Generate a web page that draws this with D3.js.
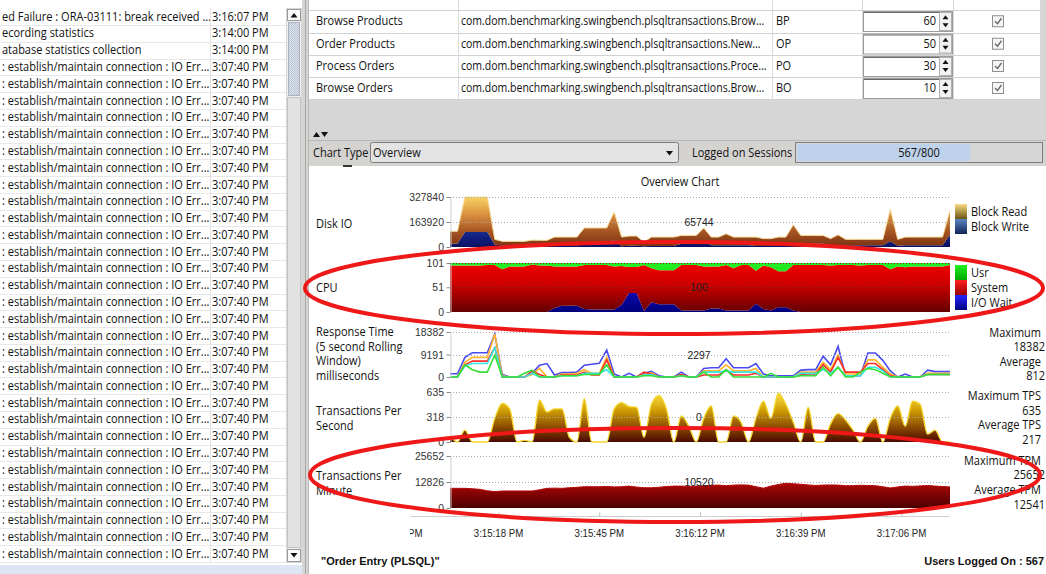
<!DOCTYPE html>
<html><head><meta charset="utf-8">
<script src="https://cdn.jsdelivr.net/npm/d3@7"></script>
<style>
html,body{margin:0;padding:0;background:#fff;overflow:hidden}
svg{display:block}
</style></head><body>
<svg id="c" width="1046" height="574"></svg>
<script>
// ================= DATA =================
const logMessages = ["ed Failure : ORA-03111: break received ...", "ecording statistics", "atabase statistics collection"]
  .concat(Array(30).fill(": establish/maintain connection : IO Err..."));
const logTimes = ["3:16:07 PM", "3:14:00 PM", "3:14:00 PM"].concat(Array(30).fill("3:07:40 PM"));

const txNames = ["Browse Products", "Order Products", "Process Orders", "Browse Orders"];
const txClasses = ["com.dom.benchmarking.swingbench.plsqltransactions.Brow...",
  "com.dom.benchmarking.swingbench.plsqltransactions.New...",
  "com.dom.benchmarking.swingbench.plsqltransactions.Proce...",
  "com.dom.benchmarking.swingbench.plsqltransactions.Brow..."];
const txCodes = ["BP", "OP", "PO", "BO"];
const txWeights = [60, 50, 30, 10];

const sessionsLogged = 567, sessionsMax = 800;

const startTime = new Date(2013, 4, 1, 15, 15, 5);
const endTime = new Date(2013, 4, 1, 15, 17, 19);
const sampleStepSec = 2;
const xTickTimes = [[15,14,51],[15,15,18],[15,15,45],[15,16,12],[15,16,39],[15,17,6]];
const xTickLabels = ["3:14:51 PM", "3:15:18 PM", "3:15:45 PM", "3:16:12 PM", "3:16:39 PM", "3:17:06 PM"];

// Disk IO (stacked: write bottom, read on top)
const blockWrite = [22000,22000,98000,98000,98000,98000,15000,11000,11000,11000,
 11000,11000,15000,15000,6000,6000,6000,6000,33000,33000,
 33000,33000,44000,5000,8000,8000,5000,6000,6000,6000,
 6000,22000,22000,22000,37000,11000,11000,11000,11000,11000,
 11000,6000,6000,6000,6000,6000,22000,22000,22000,22000,
 22000,11000,11000,11000,11000,11000,11000,11000,11000,37000,
 8000,11000,11000,11000,11000,11000,11000,80000];
const blockRead = [81000,81000,229840,229840,229840,229840,35000,26000,26000,26000,
 26000,34000,29000,29000,59000,59000,59000,59000,92000,92000,
 92000,92000,186000,60000,64000,64000,28000,59000,59000,59000,
 59000,54000,54000,54000,88000,54000,54000,76000,54000,54000,
 54000,59000,49000,49000,59000,59000,124000,54000,54000,54000,
 54000,44000,69000,39000,39000,39000,39000,39000,39000,210000,
 42000,54000,54000,54000,54000,54000,54000,160000];
const diskTicks = [0, 163920, 327840];
const diskCurrent = 65744;

// CPU (stacked: I/O wait bottom, system, usr top)
const cpuIoWait = [0,0,0,0,0,0,0,0,0,0,
 0,0,0,0,8,13,13,13,6,5,
 5,5,5,15,39,39,2,20,16,16,
 16,3,3,3,3,7,7,3,3,3,
 3,17,6,3,10,10,3,0,0,0,
 0,0,0,0,0,0,0,0,0,0,
 0,0,0,0,0,0,0,0];
const cpuSystem = [96,96,96,96,96,97,97,88,94,94,
 94,98,96,96,86,81,81,81,91,92,
 92,92,89,80,54,54,95,70,70,70,
 70,94,94,94,91,87,87,94,87,94,
 94,68,90,89,74,74,94,97,97,97,
 97,96,97,97,97,96,97,97,97,88,
 94,92,94,94,94,94,94,97];
const cpuUsr = [5,5,5,5,5,4,4,13,7,7,
 7,3,5,5,7,7,7,7,4,4,
 4,4,7,6,8,8,4,11,15,15,
 15,4,4,4,7,7,7,4,11,4,
 4,16,5,9,17,17,4,4,4,4,
 4,5,4,4,4,5,4,4,4,13,
 7,9,7,7,7,7,7,4];
const cpuTicks = [0, 51, 101];
const cpuCurrent = 100;

// Response time (5 s rolling window), ms, one line per transaction
const rtBlue = [1300,1300,8000,9900,9900,9900,17500,1000,0,0,
 0,1500,4800,5500,800,1800,1800,2000,4800,5200,
 5600,11000,1200,0,1500,0,1500,2300,500,0,
 0,2000,0,0,3500,3800,3800,7500,3800,3800,
 3800,5500,1200,500,500,500,500,2800,3000,3000,
 8500,5000,12500,500,500,500,9800,9800,6800,2500,
 0,1200,0,0,2800,2200,2200,2200];
const rtOrange = [0,0,6000,8000,8000,8000,17500,500,0,0,
 0,1000,3500,0,0,1200,1200,1500,3000,1500,
 1500,8000,0,0,0,0,1000,1800,0,0,
 0,1000,0,0,2500,2500,2500,5000,2500,2500,
 2500,3500,0,0,0,0,0,2000,2000,2000,
 6000,3000,9000,1200,1200,1200,7000,7000,4000,1200,
 0,0,0,0,1500,1500,1500,1500];
const rtRed = [0,0,5000,6500,6500,6500,12000,0,0,0,
 0,2500,1000,0,0,800,800,800,2000,800,
 800,7000,0,0,0,0,2000,1200,0,0,
 0,1000,0,0,800,800,800,3000,800,800,
 800,1500,0,0,0,0,0,1000,1200,1200,
 5000,2000,8000,2000,2000,2000,5500,5500,3000,500,
 0,0,0,0,1000,1000,1000,1000];
const rtCyan = [0,0,4500,5500,5500,5500,12000,0,0,0,
 0,1500,0,0,0,500,500,500,1500,1500,
 1500,3000,0,0,0,0,800,1000,0,0,
 0,500,0,0,2000,2000,2000,2500,2000,2000,
 2000,2000,0,0,0,0,0,1500,1500,1500,
 3000,1500,4000,500,500,500,4000,4000,2500,0,
 0,0,0,0,1000,1000,1000,1000];
const rtGreen = [0,0,5000,3000,2000,2000,9000,0,0,0,
 1500,2800,0,0,0,500,500,500,1000,1000,
 1000,5000,0,0,0,0,500,500,0,0,
 0,500,0,0,2000,0,0,3000,0,0,
 0,0,0,1500,0,0,0,500,500,500,
 4000,500,4000,0,0,2000,3500,3000,1500,0,
 0,0,0,0,1000,1000,1000,1000];
const rtColors = ["#4a4af2", "#ffb42a", "#ff2a2a", "#34e6e6", "#36e036"];
const rtTicks = [0, 9191, 18382];
const rtCurrent = 2297, rtMax = 18382, rtAvg = 812;

// Transactions per second
const tps = [80,0,150,0,0,0,300,490,420,0,
 20,0,530,380,420,420,60,0,550,0,
 0,0,420,500,450,440,60,480,590,420,
 0,330,200,0,300,460,0,0,330,250,
 0,300,520,300,620,480,250,0,440,0,
 0,230,360,280,150,0,200,300,0,300,
 460,200,520,480,100,150,0,0];
const tpsTicks = [0, 318, 635];
const tpsCurrent = 0, tpsMax = 635, tpsAvg = 217;

// Transactions per minute
const tpm = [9700,9700,9700,9500,9200,8500,8100,8400,8400,8400,
 8400,8400,9000,9700,9800,9700,10000,10200,10500,10500,
 10500,10600,10400,10500,10800,10300,10000,10000,10200,10600,
 10800,10800,10600,10800,11000,11200,11300,11000,11300,11400,
 11300,10500,9800,10800,11600,12200,12000,11700,11400,11100,
 11300,11400,11300,11000,11000,11200,11100,11000,10500,9900,
 10400,10800,10700,10900,11100,10800,10600,10400];
const tpmTicks = [0, 12826, 25652];
const tpmCurrent = 10520, tpmMax = 25652, tpmAvg = 12541;

// ================= DRAWING =================
const svg = d3.select('#c');
const defs = svg.append('defs');
const UIF = "'Open Sans','Noto Sans',sans-serif";
const CF = "'Liberation Sans',Arial,sans-serif";

function measure(str, family, size, weight) {
  const t = svg.append('text').attr('font-family', family).attr('font-size', size)
    .attr('font-weight', weight || null).text(str);
  const w = t.node().getComputedTextLength(); t.remove(); return w;
}
const uiK = 202 / measure('establish/maintain connection : IO Err...', UIF, 12);

function txt(g, x, y, s, o = {}) {
  const k = o.k == null ? uiK : o.k;
  return g.append('text').attr('transform', `translate(${x},${y}) scale(${k},1)`)
    .attr('font-family', o.f || UIF).attr('font-size', o.s || 12)
    .attr('fill', o.c || '#111').attr('text-anchor', o.a || 'start')
    .attr('font-weight', o.w || null).text(s);
}
function grad(id, stops, y1, y2) {
  const g = defs.append('linearGradient').attr('id', id).attr('x1', 0).attr('x2', 0);
  if (y1 != null) g.attr('gradientUnits', 'userSpaceOnUse').attr('y1', y1).attr('y2', y2);
  else g.attr('y1', 0).attr('y2', 1);
  stops.forEach(([o, c]) => g.append('stop').attr('offset', o).attr('stop-color', c));
}

// thumb texture
const pat = defs.append('pattern').attr('id', 'thumbPat').attr('width', 2).attr('height', 2)
  .attr('patternUnits', 'userSpaceOnUse');
pat.append('rect').attr('width', 2).attr('height', 2).attr('fill', '#dfe5ee');
pat.append('rect').attr('width', 1).attr('height', 1).attr('fill', '#b7c1d0');
pat.append('rect').attr('x', 1).attr('y', 1).attr('width', 1).attr('height', 1).attr('fill', '#b7c1d0');

// ---------- Left log panel ----------
const left = svg.append('g');
left.append('rect').attr('x', 0).attr('y', 0).attr('width', 302).attr('height', 574).attr('fill', '#fff');
const rowH = 16.78, rowC0 = 16.7;
logMessages.forEach((m, i) => {
  const c = rowC0 + i * rowH;
  left.append('line').attr('x1', 0).attr('x2', 286).attr('y1', Math.round(c + rowH / 2) + 0.5)
    .attr('y2', Math.round(c + rowH / 2) + 0.5).attr('stroke', '#e8e8e8');
  txt(left, 2, c + 4, m);
  txt(left, 212, c + 4, logTimes[i]);
});
left.append('line').attr('x1', 210.5).attr('x2', 210.5).attr('y1', 8).attr('y2', 562).attr('stroke', '#e2e2e2');
// scrollbar
left.append('rect').attr('x', 286.5).attr('y', 8.5).attr('width', 15).attr('height', 554).attr('fill', '#efefef').attr('stroke', '#d6d6d6');
left.append('rect').attr('x', 287.5).attr('y', 9.5).attr('width', 13).attr('height', 11).attr('fill', '#fafafa').attr('stroke', '#9a9a9a');
left.append('path').attr('d', 'M290.5,17.5 L294,13 L297.5,17.5 Z').attr('fill', '#111');
left.append('rect').attr('x', 288.5).attr('y', 22.5).attr('width', 11).attr('height', 73).attr('fill', 'url(#thumbPat)').attr('stroke', '#a9b3c2');
left.append('rect').attr('x', 287.5).attr('y', 97.5).attr('width', 13).attr('height', 450).attr('fill', '#e2e2e2').attr('stroke', '#c4c4c4');
left.append('rect').attr('x', 287.5).attr('y', 549.5).attr('width', 13).attr('height', 12).attr('fill', '#fafafa').attr('stroke', '#9a9a9a');
left.append('path').attr('d', 'M290.5,553 L297.5,553 L294,557.5 Z').attr('fill', '#111');
left.append('rect').attr('x', 0).attr('y', 565).attr('width', 302).attr('height', 9).attr('fill', '#dde7f3');

// separator between panels
svg.append('rect').attr('x', 302).attr('y', 0).attr('width', 6).attr('height', 574).attr('fill', '#d6d5d2');
svg.append('line').attr('x1', 305.5).attr('x2', 305.5).attr('y1', 0).attr('y2', 574).attr('stroke', '#a6a6a6');
svg.append('line').attr('x1', 308.5).attr('x2', 308.5).attr('y1', 0).attr('y2', 574).attr('stroke', '#b9b9b9');

// ---------- Transaction table ----------
const right = svg.append('g');
right.append('rect').attr('x', 309).attr('y', 0).attr('width', 737).attr('height', 140).attr('fill', '#d6d6d6');
right.append('rect').attr('x', 309).attr('y', 0).attr('width', 731).attr('height', 99).attr('fill', '#fff');
const rowTops = [10, 32.5, 55, 77, 99];
rowTops.forEach(y => right.append('line').attr('x1', 309).attr('x2', 1040).attr('y1', Math.round(y) + 0.5).attr('y2', Math.round(y) + 0.5).attr('stroke', '#d2d2d2'));
[458.5, 772.5, 862.5, 953.5, 1040.5].forEach(x => right.append('line').attr('x1', x).attr('x2', x).attr('y1', 0).attr('y2', 99).attr('stroke', '#dadada'));
txNames.forEach((n, i) => {
  const yc = (rowTops[i] + rowTops[i + 1]) / 2;
  txt(right, 316, yc + 4, n);
  txt(right, 461, yc + 4, txClasses[i], { k: uiK * 0.955 });
  txt(right, 776, yc + 4, txCodes[i]);
  right.append('rect').attr('x', 863.5).attr('y', rowTops[i] + 1.5).attr('width', 89).attr('height', 20).attr('fill', '#fff').attr('stroke', '#9c9c9c');
  right.append('line').attr('x1', 864).attr('x2', 952).attr('y1', rowTops[i] + 2.5).attr('y2', rowTops[i] + 2.5).attr('stroke', '#6a6a6a');
  txt(right, 936, yc + 4, String(txWeights[i]), { a: 'end' });
  right.append('rect').attr('x', 939.5).attr('y', rowTops[i] + 2.5).attr('width', 12).attr('height', 18).attr('fill', '#f2f2f2').attr('stroke', '#b0b0b0');
  right.append('path').attr('d', `M942.5,${yc - 2} L945.5,${yc - 6} L948.5,${yc - 2} Z`).attr('fill', '#111');
  right.append('path').attr('d', `M942.5,${yc + 2} L948.5,${yc + 2} L945.5,${yc + 6} Z`).attr('fill', '#111');
  right.append('rect').attr('x', 992.5).attr('y', yc - 5.5).attr('width', 11).attr('height', 11).attr('fill', '#f6f6f6').attr('stroke', '#8e8e8e');
  right.append('path').attr('d', `M995,${yc} L997.5,${yc + 2.5} L1001.5,${yc - 3}`).attr('fill', 'none').attr('stroke', '#666').attr('stroke-width', 1.3);
});
// splitter arrows
right.append('path').attr('d', 'M313,137 L316.5,132 L320,137 Z').attr('fill', '#111');
right.append('path').attr('d', 'M321,132 L328,132 L324.5,137 Z').attr('fill', '#111');

// ---------- toolbar ----------
right.append('rect').attr('x', 309).attr('y', 140).attr('width', 737).attr('height', 26).attr('fill', '#d4d3d0');
right.append('line').attr('x1', 309).attr('x2', 1046).attr('y1', 140.5).attr('y2', 140.5).attr('stroke', '#b8b8b8');
txt(right, 313, 157, 'Chart Type');
right.append('rect').attr('x', 370.5).attr('y', 142.5).attr('width', 308).attr('height', 20).attr('fill', '#e3e3e3').attr('stroke', '#7e7e7e').attr('rx', 2);
txt(right, 373, 157, 'Overview');
right.append('path').attr('d', 'M666,151 L673,151 L669.5,155.5 Z').attr('fill', '#111');
txt(right, 692, 157, 'Logged on Sessions');
right.append('rect').attr('x', 795.5).attr('y', 142.5).attr('width', 247).attr('height', 20).attr('fill', '#d6d6d6').attr('stroke', '#7e7e7e');
const prog = d3.scaleLinear().domain([0, sessionsMax]).range([797, 1041]);
right.append('rect').attr('x', 797).attr('y', 144).attr('width', prog(sessionsLogged) - 797).attr('height', 17).attr('fill', '#bfd2ec');
txt(right, 919, 157, `${sessionsLogged}/${sessionsMax}`, { a: 'middle' });

// ---------- chart area ----------
const chart = svg.append('g');
chart.append('rect').attr('x', 309).attr('y', 166).attr('width', 737).attr('height', 408).attr('fill', '#fff');
chart.append('line').attr('x1', 395).attr('x2', 635).attr('y1', 165.5).attr('y2', 165.5).attr('stroke', '#d8d8d8').attr('stroke-dasharray', '1,2');
chart.append('rect').attr('x', 343).attr('y', 165).attr('width', 9).attr('height', 2).attr('fill', '#333');
txt(chart, 680, 186, 'Overview Chart', { a: 'middle', s: 12 });

const X0 = 450, X1 = 950;
const x = d3.scaleTime().domain([startTime, endTime]).range([X0, X1]);
const sampleTime = i => new Date(+startTime + i * sampleStepSec * 1000);
defs.append('clipPath').attr('id', 'plotClip').append('rect').attr('x', X0).attr('y', 180).attr('width', X1 - X0).attr('height', 340);

function makePanel(top, bottom, ticks) {
  const y = d3.scaleLinear().domain([0, ticks[ticks.length - 1]]).range([bottom, top]);
  const g = chart.append('g');
  const marks = g.append('g').attr('clip-path', 'url(#plotClip)');
  const over = g.append('g');
  return { y, g, marks, over, top, bottom, ticks };
}
function finishPanel(p, gridColor) {
  p.over.selectAll('line.grid').data(p.ticks.filter(t => t > 0)).join('line').attr('class', 'grid')
    .attr('x1', X0).attr('x2', X1).attr('y1', d => Math.round(p.y(d)) + 0.5).attr('y2', d => Math.round(p.y(d)) + 0.5)
    .attr('stroke', gridColor || '#a9a9a9').attr('stroke-dasharray', '1,2');
  const ax = p.over.append('g').attr('transform', `translate(${X0 + 0.5},0)`)
    .call(d3.axisLeft(p.y).tickValues(p.ticks).tickSize(4).tickSizeOuter(0).tickFormat(''));
  ax.select('.domain').attr('stroke', '#cfcfcf');
  ax.selectAll('.tick line').attr('stroke', '#8a8a8a');
  p.ticks.forEach(t => txt(p.over, X0 - 6, p.y(t) + 4, String(t), { f: CF, s: 11, k: 0.95, c: '#333', a: 'end' }));
}
function centerLabel(p, v) {
  txt(p.over, 699, p.y(p.ticks[1]) + 4, String(v), { f: CF, s: 11, k: 0.95, c: '#222', a: 'middle' });
}

// --- Disk IO ---
grad('gRead', [[0, '#fad262'], [0.35, '#d99040'], [0.7, '#a55322'], [1, '#7a3210']], 197, 247);
grad('gWrite', [[0, '#6a90d0'], [0.45, '#2a48a0'], [0.8, '#122080'], [1, '#0a1062']], 197, 247);
const dp = makePanel(197, 247, diskTicks);
const diskRows = blockRead.map((r, i) => ({ t: sampleTime(i), write: blockWrite[i], read: r }));
const diskStack = d3.stack().keys(['write', 'read'])(diskRows);
const stackArea = y => d3.area().x(d => x(d.data.t)).y0(d => y(d[0])).y1(d => y(d[1]));
dp.marks.selectAll('path.a').data(diskStack).join('path').attr('class', 'a')
  .attr('d', stackArea(dp.y)).attr('fill', (d, i) => ['url(#gWrite)', 'url(#gRead)'][i]);
dp.marks.append('path').datum(diskStack[1])
  .attr('d', d3.line().x(d => x(d.data.t)).y(d => dp.y(d[1])))
  .attr('fill', 'none').attr('stroke', '#f6dc9a').attr('stroke-width', 1);
finishPanel(dp);
centerLabel(dp, diskCurrent);
txt(chart, 316, 228, 'Disk IO');
grad('lgRead', [[0, '#f8da80'], [1, '#6a5412']]);
grad('lgWrite', [[0, '#5a86c4'], [1, '#122456']]);
chart.append('rect').attr('x', 955).attr('y', 204).attr('width', 12).attr('height', 15).attr('fill', 'url(#lgRead)');
chart.append('rect').attr('x', 955).attr('y', 219).attr('width', 12).attr('height', 15).attr('fill', 'url(#lgWrite)');
txt(chart, 971, 216, 'Block Read');
txt(chart, 971, 231, 'Block Write');

// --- CPU ---
grad('gUsr', [[0, '#22f022'], [1, '#0cc00c']], 263, 312);
grad('gSys', [[0, '#f20000'], [0.45, '#cc0000'], [1, '#640000']], 263, 312);
grad('gIo', [[0, '#2a2aff'], [0.5, '#0c0cc0'], [1, '#00007a']], 263, 312);
const cp = makePanel(263, 312, cpuTicks);
const cpuRows = cpuUsr.map((u, i) => ({ t: sampleTime(i), io: cpuIoWait[i], sys: cpuSystem[i], usr: u }));
const cpuStack = d3.stack().keys(['io', 'sys', 'usr'])(cpuRows);
cp.marks.selectAll('path.a').data(cpuStack).join('path').attr('class', 'a')
  .attr('d', stackArea(cp.y)).attr('fill', (d, i) => ['url(#gIo)', 'url(#gSys)', 'url(#gUsr)'][i]);
finishPanel(cp, '#7a2020');
centerLabel(cp, cpuCurrent);
txt(chart, 316, 292, 'CPU');
grad('lgUsr', [[0, '#20f020'], [1, '#00a800']]);
grad('lgSys', [[0, '#ff2020'], [1, '#9a0000']]);
grad('lgIo', [[0, '#2424ff'], [1, '#000080']]);
[['lgUsr', 'Usr'], ['lgSys', 'System'], ['lgIo', 'I/O Wait']].forEach(([g, l], i) => {
  chart.append('rect').attr('x', 955).attr('y', 265 + i * 15).attr('width', 12).attr('height', 15).attr('fill', `url(#${g})`);
  txt(chart, 971, 277 + i * 15, l);
});

// --- Response time ---
const rp = makePanel(332, 377, rtTicks);
[rtBlue, rtOrange, rtRed, rtCyan, rtGreen].forEach((s, k) => {
  rp.marks.append('path').datum(s)
    .attr('d', d3.line().x((d, i) => x(sampleTime(i))).y(d => rp.y(d)))
    .attr('fill', 'none').attr('stroke', rtColors[k]).attr('stroke-width', 1.6);
});
finishPanel(rp);
centerLabel(rp, rtCurrent);
['Response Time', '(5 second Rolling', 'Window)', 'milliseconds'].forEach((l, i) => txt(chart, 316, 336 + i * 14.7, l));
txt(chart, 1041, 337, 'Maximum', { a: 'end' });
txt(chart, 1045, 351, String(rtMax), { a: 'end' });
txt(chart, 1041, 366, 'Average', { a: 'end' });
txt(chart, 1045, 380, String(rtAvg), { a: 'end' });

// --- TPS ---
grad('gTps', [[0, '#ffe24a'], [0.35, '#d2a204'], [0.7, '#8c4c02'], [1, '#4a0a00']], 392, 442);
const tp = makePanel(392, 442, tpsTicks);
const tpsArea = d3.area().x((d, i) => x(sampleTime(i))).y0(tp.y(0)).y1(d => tp.y(d)).curve(d3.curveMonotoneX);
tp.marks.append('path').datum(tps).attr('d', tpsArea).attr('fill', 'url(#gTps)');
tp.marks.append('path').datum(tps).attr('d', tpsArea.lineY1()).attr('fill', 'none')
  .attr('stroke', '#f5d62a').attr('stroke-width', 1.3);
finishPanel(tp);
centerLabel(tp, tpsCurrent);
txt(chart, 316, 415, 'Transactions Per');
txt(chart, 316, 430, 'Second');
txt(chart, 1041, 400, 'Maximum TPS', { a: 'end' });
txt(chart, 1041, 414.5, String(tpsMax), { a: 'end' });
txt(chart, 1041, 429, 'Average TPS', { a: 'end' });
txt(chart, 1041, 443.5, String(tpsAvg), { a: 'end' });

// --- TPM ---
grad('gTpm', [[0, '#e82020'], [0.55, '#a60606'], [1, '#4c0000']], 456, 508);
const mp = makePanel(456, 508, tpmTicks);
const tpmArea = d3.area().x((d, i) => x(sampleTime(i))).y0(mp.y(0)).y1(d => mp.y(d));
mp.marks.append('path').datum(tpm).attr('d', tpmArea).attr('fill', 'url(#gTpm)');
mp.marks.append('path').datum(tpm).attr('d', tpmArea.lineY1()).attr('fill', 'none')
  .attr('stroke', '#b80a0a').attr('stroke-width', 1);
finishPanel(mp);
centerLabel(mp, tpmCurrent);
txt(chart, 316, 480, 'Transactions Per');
txt(chart, 316, 495, 'Minute');
txt(chart, 1041, 464.5, 'Maximum TPM', { a: 'end' });
txt(chart, 1045, 479, String(tpmMax), { a: 'end' });
txt(chart, 1041, 494, 'Average TPM', { a: 'end' });
txt(chart, 1045, 508.5, String(tpmAvg), { a: 'end' });

// --- time axis ---
defs.append('clipPath').attr('id', 'axClip').append('rect').attr('x', 410).attr('y', 505).attr('width', 545).attr('height', 40);
const xTicks = xTickTimes.map(([h, m, s]) => new Date(2013, 4, 1, h, m, s));
const xg = chart.append('g').attr('clip-path', 'url(#axClip)');
const xAx = xg.append('g').attr('transform', 'translate(0,516.5)')
  .call(d3.axisBottom(x).tickValues(xTicks).tickSize(-4).tickSizeOuter(0).tickFormat(''));
xAx.select('.domain').attr('d', 'M410,0H950').attr('stroke', '#cfcfcf');
xAx.selectAll('.tick line').attr('stroke', '#bbb');
xTicks.forEach((t, i) => txt(xg, x(t), 537, xTickLabels[i], { f: CF, s: 11, k: 0.88, c: '#222', a: 'middle' }));

// footer
txt(chart, 321, 565, '"Order Entry (PLSQL)"', { f: CF, s: 11, k: 1, w: 'bold', c: '#111' });
txt(chart, 1044, 565, 'Users Logged On : ' + sessionsLogged, { f: CF, s: 11, k: 1, w: 'bold', c: '#111', a: 'end' });

// ---------- highlight ellipses ----------
svg.append('ellipse').attr('cx', 674).attr('cy', 288).attr('rx', 369).attr('ry', 46)
  .attr('fill', 'none').attr('stroke', '#ee1818').attr('stroke-width', 4);
svg.append('ellipse').attr('cx', 675).attr('cy', 475).attr('rx', 365).attr('ry', 47)
  .attr('fill', 'none').attr('stroke', '#ee1818').attr('stroke-width', 4);
</script>
</body></html>
